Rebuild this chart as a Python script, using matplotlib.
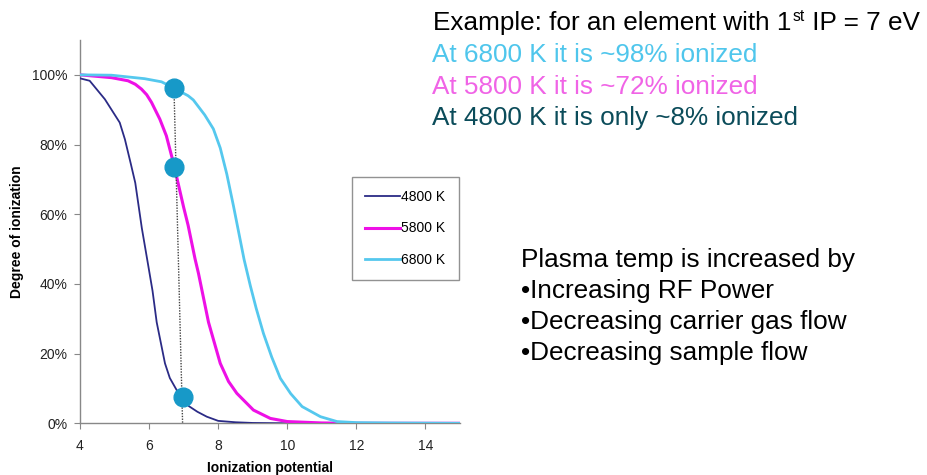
import matplotlib
matplotlib.use("Agg")
import matplotlib.pyplot as plt
from matplotlib.ticker import PercentFormatter

plt.rcParams['font.family'] = ['Liberation Sans', 'DejaVu Sans']

# ---- data ----
x_4800 = [4.0, 4.28, 4.72, 5.15, 5.30, 5.47, 5.6, 5.79, 5.98, 6.1, 6.22, 6.46, 6.6, 6.8, 6.97, 7.14, 7.4, 7.67, 8.0, 8.5, 9.0, 10.0, 12.0, 15.0]
y_4800 = [0.99, 0.983, 0.93, 0.863, 0.815, 0.745, 0.69, 0.56, 0.45, 0.38, 0.29, 0.172, 0.13, 0.095, 0.072, 0.05, 0.033, 0.019, 0.007, 0.003, 0.001, 0.0, 0.0, 0.0]

x_5800 = [4.0, 4.91, 5.39, 5.6, 5.78, 5.93, 6.07, 6.31, 6.5, 6.71, 7.0, 7.13, 7.33, 7.43, 7.72, 8.06, 8.3, 8.54, 9.02, 9.51, 10.0, 11.0, 12.0, 15.0]
y_5800 = [1.0, 0.992, 0.983, 0.973, 0.959, 0.943, 0.921, 0.873, 0.825, 0.745, 0.62, 0.568, 0.472, 0.43, 0.29, 0.172, 0.12, 0.086, 0.038, 0.014, 0.005, 0.001, 0.0, 0.0]

x_6800 = [4.0, 4.91, 5.87, 6.36, 6.72, 7.13, 7.28, 7.61, 7.86, 8.06, 8.25, 8.44, 8.6, 8.75, 8.93, 9.1, 9.31, 9.55, 9.80, 10.1, 10.43, 10.96, 11.44, 12.0, 13.0, 15.0]
y_6800 = [1.0, 0.999, 0.989, 0.98, 0.962, 0.94, 0.928, 0.885, 0.845, 0.79, 0.715, 0.625, 0.545, 0.47, 0.395, 0.33, 0.258, 0.19, 0.129, 0.085, 0.048, 0.019, 0.005, 0.002, 0.001, 0.0]

series_labels = ['4800 K', '5800 K', '6800 K']

marker_x = [6.72, 6.71, 6.97]
marker_y = [0.962, 0.735, 0.076]
guide_x = [6.72, 6.97]
guide_y = [0.962, 0.0]

x_ticks = [4, 6, 8, 10, 12, 14]
y_ticks = [0.0, 0.2, 0.4, 0.6, 0.8, 1.0]

header_line = ["Example: for an element with 1", "st", " IP = 7 eV"]
temp_lines = ["At 6800 K it is ~98% ionized",
              "At 5800 K it is ~72% ionized",
              "At 4800 K it is only ~8% ionized"]
plasma_lines = ["Plasma temp is increased by",
                "\u2022Increasing RF Power",
                "\u2022Decreasing carrier gas flow",
                "\u2022Decreasing sample flow"]

# ---- figure ----
W, H = 928, 475
fig = plt.figure(figsize=(W / 100, H / 100), dpi=100)
ax = fig.add_axes([80 / W, (H - 423.3) / H, 380 / W, 383.3 / H])

c4800 = '#2b2b86'
c5800 = '#ee10e6'
c6800 = '#55c8ee'

ax.plot(x_4800, y_4800, color=c4800, lw=1.3, label=series_labels[0], zorder=3,
        solid_joinstyle='round')
ax.plot(x_5800, y_5800, color=c5800, lw=2.2, label=series_labels[1], zorder=3,
        solid_joinstyle='round')
ax.plot(x_6800, y_6800, color=c6800, lw=2.0, label=series_labels[2], zorder=3,
        solid_joinstyle='round')

ax.plot(guide_x, guide_y, color='#444444', lw=1.0, ls=(0, (1, 1)), zorder=4)
ax.plot(marker_x, marker_y, ls='none', marker='o', ms=13.5, color='#1799c8',
        mec='#1799c8', zorder=5)

ax.set_xlim(4, 15)
ax.set_ylim(0, 1.1)
ax.set_xticks(x_ticks)
ax.set_yticks(y_ticks)
ax.yaxis.set_major_formatter(PercentFormatter(1.0, decimals=0))

for s in ['top', 'right']:
    ax.spines[s].set_visible(False)
for s in ['left', 'bottom']:
    ax.spines[s].set_color('#888888')
    ax.spines[s].set_linewidth(1.0)
ax.tick_params(axis='both', which='major', direction='out', length=4,
               color='#888888', labelsize=10, labelcolor='#222222')
ax.tick_params(axis='x', pad=7)
ax.tick_params(axis='y', pad=5)

ax.set_xlabel('Ionization potential', fontsize=10, fontweight='bold', labelpad=6)
ax.set_ylabel('Degree of ionization', fontsize=10, fontweight='bold', labelpad=6)

leg = ax.legend(loc='upper left', bbox_to_anchor=(0.716, 0.643), fontsize=10,
                frameon=True, fancybox=False, edgecolor='#777777',
                handlelength=2.5, handletextpad=0.1, labelspacing=1.25,
                borderpad=0.95, borderaxespad=0)
leg.get_frame().set_linewidth(1.0)

# ---- annotation text ----
def fx(px):
    return px / W

def fy(py):
    return 1 - py / H

fs = 18.8
renderer = fig.canvas.get_renderer()
t1 = fig.text(fx(433), fy(30), header_line[0], fontsize=fs, color='black', va='baseline')
bb = t1.get_window_extent(renderer)
t2 = fig.text(bb.x1 / W + 0.001, fy(30) + 9 / H, header_line[1], fontsize=fs * 0.6,
              color='black', va='baseline')
bb2 = t2.get_window_extent(renderer)
fig.text(bb2.x1 / W, fy(30), header_line[2], fontsize=fs, color='black', va='baseline')

temp_colors = ['#4fc6ec', '#f064e6', '#0b4c5a']
for i, (line, col) in enumerate(zip(temp_lines, temp_colors)):
    fig.text(fx(432), fy(62.3 + 31.5 * i), line, fontsize=fs, color=col, va='baseline')

for i, line in enumerate(plasma_lines):
    fig.text(fx(521), fy(267.3 + 30.8 * i), line, fontsize=fs, color='black', va='baseline')

fig.savefig('out.png', dpi=100)
